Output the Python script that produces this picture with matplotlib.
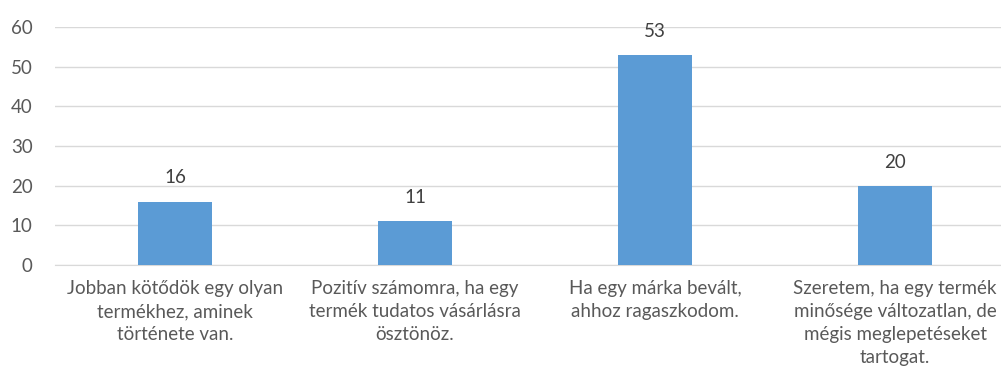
import numpy as np
import matplotlib.pyplot as plt

plt.rcParams['font.family'] = ['Lato', 'DejaVu Sans']

# Data
categories = [
    "Jobban kötődök egy olyan\ntermékhez, aminek\ntörténete van.",
    "Pozitív számomra, ha egy\ntermék tudatos vásárlásra\nösztönöz.",
    "Ha egy márka bevált,\nahhoz ragaszkodom.",
    "Szeretem, ha egy termék\nminősége változatlan, de\nmégis meglepetéseket\ntartogat.",
]
values = [16, 11, 53, 20]
yticks = [0, 10, 20, 30, 40, 50, 60]

bar_color = '#5b9bd5'
grid_color = '#d9d9d9'
text_color = '#595959'
fs = 13.5

fig = plt.figure(figsize=(10.01, 3.8), dpi=100)
# axes runs past the right edge, the reference is cropped there
ax = fig.add_axes([55 / 1001, (380 - 265) / 380, 960 / 1001, 238 / 380])

x = np.arange(len(values))
bars = ax.bar(x, values, width=0.31, color=bar_color, zorder=3)

for b, v in zip(bars, values):
    ax.annotate(str(v), (b.get_x() + b.get_width() / 2, v),
                xytext=(0, 13), textcoords='offset points',
                ha='center', va='baseline', fontsize=fs, color='#404040')

ax.set_xlim(-0.5, len(values) - 0.5)
ax.set_ylim(0, 60)
ax.set_yticks(yticks)
ax.yaxis.grid(True, color=grid_color, linewidth=1, zorder=0)

ax.set_xticks(x)
ax.set_xticklabels(categories, fontsize=fs, color=text_color, linespacing=1.42)
ax.tick_params(axis='x', length=0, pad=11)
ax.tick_params(axis='y', length=0, pad=16, labelsize=fs, labelcolor=text_color)

for side in ['top', 'right', 'left']:
    ax.spines[side].set_visible(False)
ax.spines['bottom'].set_color(grid_color)

fig.savefig('out.png', dpi=100)
